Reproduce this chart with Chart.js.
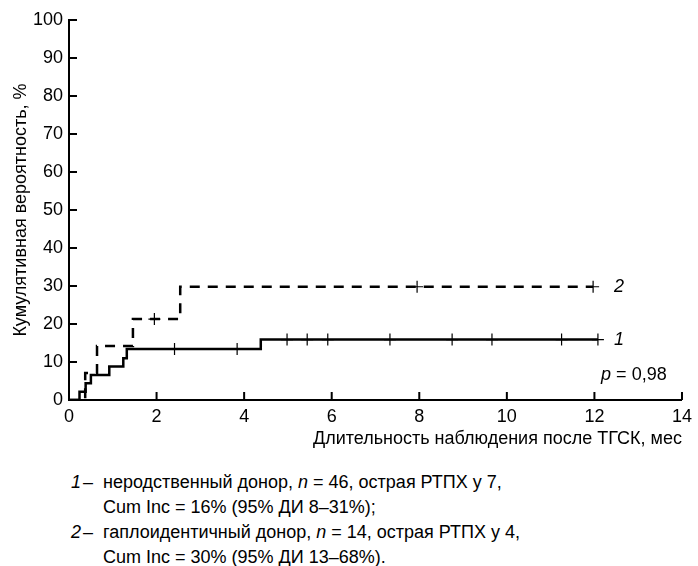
<!DOCTYPE html>
<html>
<head>
<meta charset="utf-8">
<script src="https://cdn.jsdelivr.net/npm/chart.js@4"></script>
<style>
  body { margin: 0; background: #fff; font-family: "Liberation Sans", Arial, sans-serif; overflow: hidden; }
  #wrap { position: relative; width: 698px; height: 450px; }
  #notes { margin-top: 20px; }
  .note { position: relative; padding-left: 103px; font-size: 18px; line-height: 25px; color: #000; white-space: nowrap; }
  .note .num { position: absolute; left: 71px; font-style: italic; }
  .note .dash { position: absolute; left: 83px; }
</style>
</head>
<body>
<div id="wrap"><canvas id="chart" width="698" height="450"></canvas></div>
<div id="notes">
<div class="note"><span class="num">1</span><span class="dash">–</span>неродственный донор, <i>n</i> = 46, острая РТПХ у 7,</div>
<div class="note">Cum Inc = 16% (95% ДИ 8–31%);</div>
<div class="note"><span class="num">2</span><span class="dash">–</span>гаплоидентичный донор, <i>n</i> = 14, острая РТПХ у 4,</div>
<div class="note">Cum Inc = 30% (95% ДИ 13–68%).</div>
</div>
<script>
// axis ticks
const xTickValues = [0, 2, 4, 6, 8, 10, 12, 14];
const yTickValues = [0, 10, 20, 30, 40, 50, 60, 70, 80, 90, 100];

// 1 - unrelated donor (solid)
const unrelatedTimes = [0, 0.24, 0.38, 0.50, 0.92, 1.24, 1.32, 4.38, 12.08];
const unrelatedCum   = [0, 2.2, 4.4, 6.6, 8.8, 11.0, 13.4, 15.9, 15.9];
const unrelatedCensorTimes = [2.41, 3.84, 4.98, 5.44, 5.91, 7.33, 8.75, 9.66, 11.25, 12.08];
const unrelatedCensorCum   = [13.4, 13.4, 15.9, 15.9, 15.9, 15.9, 15.9, 15.9, 15.9, 15.9];

// 2 - haploidentical donor (dashed)
const haploTimes = [0, 0.37, 0.64, 1.46, 2.54, 11.97];
const haploCum   = [0, 7.1, 14.2, 21.3, 29.8, 29.8];
const haploCensorTimes = [1.95, 7.95, 11.97];
const haploCensorCum   = [21.3, 29.8, 29.8];

const pts = (xs, ys) => xs.map((x, i) => ({ x: x, y: ys[i] }));
const FONT = '"Liberation Sans", Arial, sans-serif';

const innerTicks = {
  id: 'innerTicks',
  afterDraw(chart) {
    const ctx = chart.ctx, xs = chart.scales.x, ys = chart.scales.y;
    const area = chart.chartArea;
    ctx.save();
    ctx.strokeStyle = '#000';
    ctx.lineWidth = 2;
    ctx.beginPath();
    xTickValues.forEach(v => {
      const px = xs.getPixelForValue(v);
      ctx.moveTo(px, area.bottom);
      ctx.lineTo(px, area.bottom - 8);
    });
    yTickValues.forEach(v => {
      const py = ys.getPixelForValue(v);
      ctx.moveTo(area.left, py);
      ctx.lineTo(area.left + 8, py);
    });
    ctx.stroke();
    // curve labels and p value
    ctx.fillStyle = '#000';
    ctx.textBaseline = 'middle';
    ctx.textAlign = 'left';
    ctx.font = 'italic 18px ' + FONT;
    ctx.fillText('2', xs.getPixelForValue(12.45), ys.getPixelForValue(29.8));
    ctx.fillText('1', xs.getPixelForValue(12.45), ys.getPixelForValue(15.9));
    ctx.textAlign = 'right';
    ctx.font = '18px ' + FONT;
    const tail = ' = 0,98';
    const right = xs.getPixelForValue(13.65);
    const py = ys.getPixelForValue(6.5);
    ctx.fillText(tail, right, py);
    const w = ctx.measureText(tail).width;
    ctx.font = 'italic 18px ' + FONT;
    ctx.fillText('p', right - w, py);
    ctx.restore();
  }
};

new Chart(document.getElementById('chart'), {
  type: 'line',
  data: {
    datasets: [
      {
        label: '1',
        data: pts(unrelatedTimes, unrelatedCum),
        stepped: 'before',
        borderColor: '#000',
        borderWidth: 2.5,
        pointRadius: 0,
        fill: false
      },
      {
        label: '2',
        data: pts(haploTimes, haploCum),
        stepped: 'before',
        borderColor: '#000',
        borderWidth: 2.5,
        borderDash: [10, 8],
        pointRadius: 0,
        fill: false
      },
      {
        label: 'censored 1',
        type: 'scatter',
        data: pts(unrelatedCensorTimes, unrelatedCensorCum),
        pointStyle: 'cross',
        pointRadius: 6,
        pointBorderWidth: 1.2,
        borderColor: '#000',
        backgroundColor: '#000',
        showLine: false
      },
      {
        label: 'censored 2',
        type: 'scatter',
        data: pts(haploCensorTimes, haploCensorCum),
        pointStyle: 'cross',
        pointRadius: 6,
        pointBorderWidth: 1.2,
        borderColor: '#000',
        backgroundColor: '#000',
        showLine: false
      }
    ]
  },
  options: {
    responsive: false,
    animation: false,
    layout: { padding: { top: 20, right: 14, left: 0, bottom: 0 } },
    plugins: { legend: { display: false }, tooltip: { enabled: false } },
    scales: {
      x: {
        type: 'linear',
        min: 0,
        max: 14,
        afterBuildTicks: s => { s.ticks = xTickValues.map(v => ({ value: v })); },
        afterFit: s => { s.height = 50; },
        grid: { drawOnChartArea: false, drawTicks: false },
        border: { color: '#000', width: 2 },
        ticks: { color: '#000', font: { family: FONT, size: 18 }, padding: 6, maxRotation: 0 },
        title: {
          display: true,
          text: 'Длительность наблюдения после ТГСК, мес',
          align: 'end',
          color: '#000',
          font: { family: FONT, size: 18 },
          padding: { top: 0, bottom: 0 }
        }
      },
      y: {
        min: 0,
        max: 100,
        afterBuildTicks: s => { s.ticks = yTickValues.map(v => ({ value: v })); },
        afterFit: s => { s.width = 69; },
        grid: { drawOnChartArea: false, drawTicks: false },
        border: { color: '#000', width: 2 },
        ticks: { color: '#000', font: { family: FONT, size: 18 }, padding: 6 },
        title: {
          display: true,
          text: 'Кумулятивная вероятность, %',
          color: '#000',
          font: { family: FONT, size: 18 },
          padding: { top: 10, bottom: 0 }
        }
      }
    }
  },
  plugins: [innerTicks]
});
</script>
</body>
</html>
